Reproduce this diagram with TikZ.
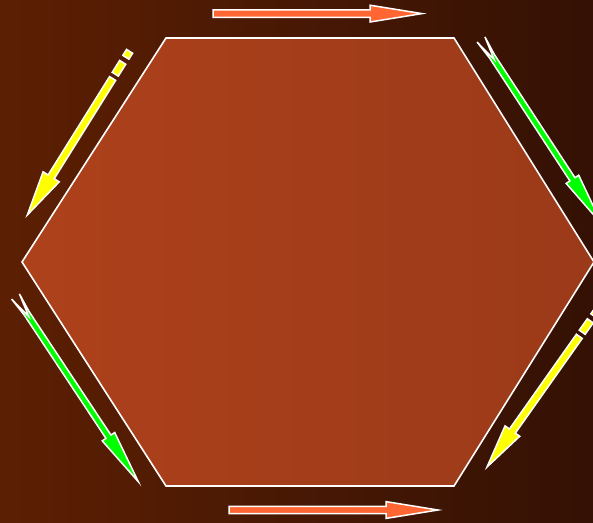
\documentclass[tikz,border=0pt]{standalone}
\usepackage{tikz}
\usetikzlibrary{calc}
\definecolor{bgleft}{RGB}{92,31,3}
\definecolor{bgright}{RGB}{52,17,4}
\definecolor{hexleft}{RGB}{173,65,27}
\definecolor{hexright}{RGB}{155,58,25}
\definecolor{orangecol}{RGB}{255,102,51}
\definecolor{yellowcol}{RGB}{255,255,0}
\definecolor{greencol}{RGB}{0,255,0}
\tikzset{
  % white rim round every arrow
  arrowbody/.style={draw=white, line width=1.5pt, line join=miter},
  % hexagon outline
  hexrim/.style={draw=white, line width=1.6pt},
}
% flat block arrow: tail, tip, colour, shaft half width, head length, head half width
\newcommand{\blockarrow}[6]{%
  \coordinate (hb) at ($(#2)!#5!(#1)$);
  \filldraw[arrowbody, fill=#3]
    ($(#1)!#4!90:(#2)$) -- ($(hb)!#4!90:(#2)$) -- ($(hb)!#6!90:(#2)$) -- (#2)
    -- ($(hb)!#6!-90:(#2)$) -- ($(hb)!#4!-90:(#2)$) -- ($(#1)!#4!-90:(#2)$) -- cycle;
}
% one dash of a broken shaft, from a to b
\newcommand{\shaftpiece}[3]{%
  \filldraw[arrowbody, fill=#3]
    ($(#1)!3.6pt!90:(#2)$) -- ($(#2)!3.6pt!-90:(#1)$)
    -- ($(#2)!3.6pt!90:(#1)$) -- ($(#1)!3.6pt!-90:(#2)$) -- cycle;
}
% arrow with forked tail: tail, tip
\newcommand{\forkarrow}[2]{%
  \coordinate (hb) at ($(#2)!54pt!(#1)$);
  \coordinate (sb) at ($(#1)!20pt!(#2)$);
  \coordinate (nt) at ($(#1)!24pt!(#2)$);
  \filldraw[arrowbody, fill=greencol]
    ($(#1)!4.7pt!90:(#2)$) -- ($(sb)!3pt!90:(#2)$) -- ($(hb)!3pt!90:(#2)$)
    -- ($(hb)!7.5pt!90:(#2)$) -- (#2) -- ($(hb)!7.5pt!-90:(#2)$)
    -- ($(hb)!3pt!-90:(#2)$) -- ($(sb)!3pt!-90:(#2)$) -- ($(#1)!4.7pt!-90:(#2)$)
    -- (nt) -- cycle;
}
\begin{document}
\begin{tikzpicture}[x=1pt, y=-1pt]
  % background
  \shade[left color=bgleft, right color=bgright] (0,0) rectangle (593,522);
  \useasboundingbox (0,0) rectangle (593,522);
  \clip (0,0) rectangle (593,522);

  % hexagon
  \coordinate (hTL) at (166,38);
  \coordinate (hTR) at (454,38);
  \coordinate (hR) at (594,262);
  \coordinate (hBR) at (454,486);
  \coordinate (hBL) at (166,486);
  \coordinate (hL) at (22,262);
  \shade[left color=hexleft, right color=hexright]
    (hTL) -- (hTR) -- (hR) -- (hBR) -- (hBL) -- (hL) -- cycle;
  \draw[hexrim] (hTL) -- (hTR) -- (hR) -- (hBR) -- (hBL) -- (hL) -- cycle;

  % orange arrows, top and bottom
  \coordinate (oTa) at (213,13.6);
  \coordinate (oTb) at (422,13.6);
  \coordinate (oBa) at (229,510);
  \coordinate (oBb) at (438,510);
  \blockarrow{oTa}{oTb}{orangecol}{3.7pt}{52pt}{8.4pt}
  \blockarrow{oBa}{oBb}{orangecol}{3.7pt}{52pt}{8.4pt}

  % yellow arrows with broken tails
  \coordinate (yLtip) at (27.3,215);
  \coordinate (yLend) at (129.6,51.3);
  \blockarrow{$(yLtip)!161pt!(yLend)$}{yLtip}{yellowcol}{3.6pt}{45pt}{9.5pt}
  \shaftpiece{$(yLtip)!166pt!(yLend)$}{$(yLtip)!180pt!(yLend)$}{yellowcol}
  \shaftpiece{$(yLtip)!186pt!(yLend)$}{yLend}{yellowcol}

  \coordinate (yRtip) at (487,467);
  \coordinate (yRend) at (598.4,309.3);
  \blockarrow{$(yRtip)!160pt!(yRend)$}{yRtip}{yellowcol}{3.6pt}{44pt}{9pt}
  \shaftpiece{$(yRtip)!165pt!(yRend)$}{$(yRtip)!179pt!(yRend)$}{yellowcol}
  \shaftpiece{$(yRtip)!185pt!(yRend)$}{yRend}{yellowcol}

  % green arrows with forked tails
  \coordinate (gRtail) at (481,39.5);
  \coordinate (gRtip) at (602,224.5);
  \forkarrow{gRtail}{gRtip}
  \coordinate (gLtail) at (15.5,296.5);
  \coordinate (gLtip) at (138.3,481.7);
  \forkarrow{gLtail}{gLtip}
\end{tikzpicture}
\end{document}
